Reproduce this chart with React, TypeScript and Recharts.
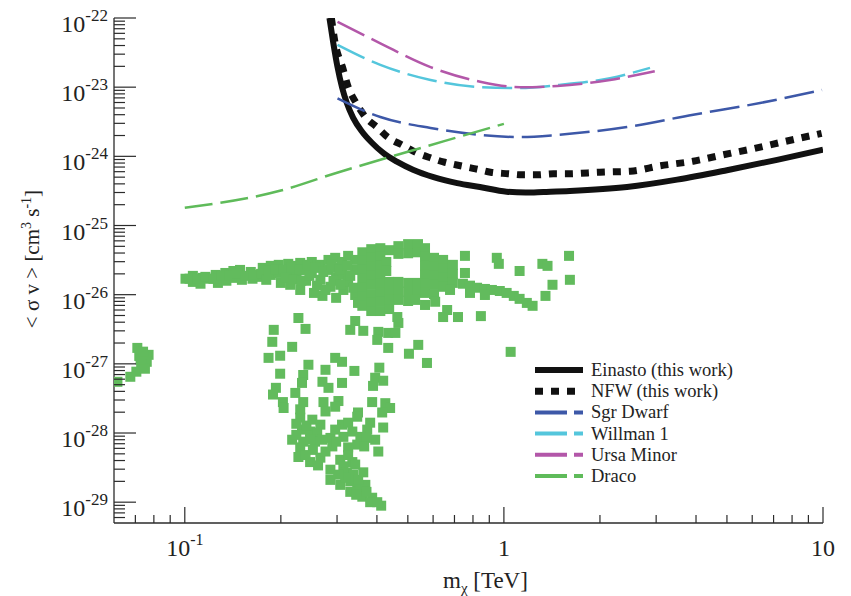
import React from "react";
import { ComposedChart, Line, Scatter, XAxis, YAxis } from "recharts";

const AXIS = "#2b2b2b";
const FONT = '"Liberation Serif", "Times New Roman", serif';

// upper limits, m_chi in TeV, <sigma v> in cm^3 s^-1
const einastoMass = [0.284, 0.292, 0.301, 0.311, 0.322, 0.337, 0.36, 0.3865, 0.4185, 0.4635, 0.519, 0.602, 0.714, 0.841, 1.02, 1.17, 1.33, 1.61, 2.43, 3.49, 5.0, 7.18, 10];
const einastoSigma = [1e-22, 4.35e-23, 1.96e-23, 1.0e-23, 5.9e-24, 3.6e-24, 2.25e-24, 1.56e-24, 1.12e-24, 8.3e-25, 6.4e-25, 5.0e-25, 4.1e-25, 3.6e-25, 3.08e-25, 3.0e-25, 3.06e-25, 3.16e-25, 3.6e-25, 4.6e-25, 6.3e-25, 8.9e-25, 1.25e-24];

const nfwMass = [0.288, 0.296, 0.312, 0.326, 0.343, 0.368, 0.402, 0.432, 0.481, 0.528, 0.589, 0.646, 0.731, 0.815, 0.908, 1.03, 1.14, 1.27, 1.43, 1.59, 2.0, 2.49, 3.09, 3.92, 4.86, 6.04, 7.5, 9.44, 9.9];
const nfwSigma = [1e-22, 4.3e-23, 1.95e-23, 9.7e-24, 6.1e-24, 3.7e-24, 2.6e-24, 1.9e-24, 1.45e-24, 1.15e-24, 9.5e-25, 8.3e-25, 7.3e-25, 6.6e-25, 5.9e-25, 5.6e-25, 5.4e-25, 5.4e-25, 5.6e-25, 5.6e-25, 5.9e-25, 6.1e-25, 7.3e-25, 8.5e-25, 1.05e-24, 1.29e-24, 1.62e-24, 2.05e-24, 2.15e-24];

const sgrMass = [0.301, 0.41, 0.589, 0.843, 1.125, 1.47, 2.43, 3.92, 6.35, 9.93];
const sgrSigma = [6.9e-24, 3.7e-24, 2.57e-24, 2.04e-24, 1.9e-24, 2.04e-24, 2.66e-24, 4.0e-24, 5.9e-24, 9.1e-24];

const willmanMass = [0.301, 0.41, 0.589, 0.843, 1.125, 1.47, 2.15, 2.87];
const willmanSigma = [4.1e-23, 2.1e-23, 1.27e-23, 1.0e-23, 9.7e-24, 1.07e-23, 1.35e-23, 1.9e-23];

const ursaMass = [0.301, 0.41, 0.589, 0.843, 1.125, 1.47, 2.15, 2.97];
const ursaSigma = [8.8e-23, 4.3e-23, 1.95e-23, 1.2e-23, 1.0e-23, 1.04e-23, 1.27e-23, 1.7e-23];

const dracoMass = [0.1, 0.2, 0.3, 0.44, 0.65, 1.0];
const dracoSigma = [1.8e-25, 3.2e-25, 5.8e-25, 9.8e-25, 1.66e-24, 2.95e-24];

// Draco model scan points [m_chi, <sigma v>]
const dracoScan: [number, number][] = [
  [0.071, 1.7e-27], [0.072, 1.3e-27], [0.077, 1.35e-27], [0.076, 1.07e-27], [0.073, 9.7e-28], [0.0705, 7.7e-28],
  [0.0675, 6.5e-28], [0.0615, 5.5e-28], [0.075, 8.5e-28], [0.0727, 1.14e-27], [0.074, 1.5e-27],
  [0.1005, 1.7e-26], [0.106, 1.53e-26], [0.106, 1.87e-26], [0.112, 1.44e-26], [0.114, 1.75e-26], [0.12, 1.7e-26],
  [0.125, 1.93e-26], [0.127, 1.48e-26], [0.134, 2.06e-26], [0.135, 1.59e-26], [0.142, 2.2e-26], [0.144, 1.75e-26],
  [0.149, 2.28e-26], [0.151, 1.64e-26], [0.161, 2.13e-26], [0.163, 1.7e-26], [0.17, 1.81e-26], [0.1755, 2.44e-26],
  [0.186, 2.61e-26], [0.186, 1.93e-26], [0.197, 2.7e-26], [0.197, 2.06e-26], [0.2, 1.48e-26], [0.211, 2.79e-26],
  [0.211, 2.13e-26], [0.214, 1.39e-26], [0.222, 2.61e-26], [0.224, 1.87e-26], [0.23, 2.88e-26], [0.23, 1.17e-26],
  [0.239, 2.28e-26], [0.24, 1.59e-26], [0.25, 2.97e-26], [0.25, 2.06e-26], [0.254, 1.06e-26], [0.266, 2.7e-26],
  [0.266, 1.64e-26], [0.27, 9.6e-27], [0.282, 3.18e-26], [0.282, 2.28e-26], [0.286, 1.3e-26], [0.296, 3.41e-26],
  [0.296, 2.44e-26], [0.298, 1.75e-26], [0.298, 9.0e-27], [0.311, 2.97e-26], [0.311, 1.93e-26], [0.314, 1.17e-26],
  [0.325, 3.64e-26], [0.325, 1.53e-26], [0.342, 3.18e-26], [0.342, 2.28e-26], [0.342, 9.9e-27], [0.349, 7.6e-27],
  [0.1035, 1.7e-26], [0.1096, 1.7e-26], [0.116, 1.81e-26], [0.123, 1.7e-26], [0.1305, 1.87e-26], [0.1377, 1.87e-26],
  [0.146, 2.0e-26], [0.155, 1.87e-26], [0.1638, 1.93e-26], [0.1734, 2.0e-26], [0.18, 1.64e-26], [0.183, 2.2e-26],
  [0.193, 2.28e-26], [0.204, 2.28e-26], [0.207, 1.75e-26], [0.2156, 2.44e-26], [0.219, 1.64e-26], [0.2284, 2.28e-26],
  [0.2317, 1.59e-26], [0.2422, 2.7e-26], [0.2457, 1.87e-26], [0.256, 2.44e-26], [0.2597, 1.35e-26], [0.2717, 2.13e-26],
  [0.276, 1.17e-26], [0.288, 2.7e-26], [0.2924, 1.59e-26], [0.305, 2.28e-26], [0.307, 1.39e-26], [0.3225, 2.61e-26],
  [0.33, 1.87e-26], [0.337, 1.26e-26],
  [0.36, 4.1e-26], [0.36, 3.08e-26], [0.36, 2.28e-26], [0.36, 1.7e-26], [0.36, 1.26e-26], [0.36, 9.3e-27], [0.36, 6.9e-27],
  [0.384, 4.55e-26], [0.384, 3.41e-26], [0.384, 2.52e-26], [0.384, 1.87e-26], [0.384, 1.39e-26], [0.384, 1.02e-26],
  [0.384, 7.6e-27], [0.384, 5.8e-27], [0.41, 4.7e-26], [0.41, 3.52e-26], [0.41, 2.61e-26], [0.41, 1.93e-26],
  [0.41, 1.44e-26], [0.41, 1.06e-26], [0.41, 7.9e-27], [0.41, 5.8e-27], [0.428, 2.97e-26], [0.428, 2.2e-26],
  [0.437, 4.4e-26], [0.437, 1.53e-26], [0.437, 1.13e-26], [0.437, 8.4e-27], [0.437, 6.2e-27],
  [0.467, 5.03e-26], [0.467, 3.89e-26], [0.467, 1.53e-26], [0.467, 1.13e-26], [0.467, 8.4e-27],
  [0.501, 5.38e-26], [0.501, 3.97e-26], [0.501, 1.48e-26], [0.501, 1.1e-26], [0.501, 8.1e-27],
  [0.538, 5.38e-26], [0.538, 4.1e-26], [0.538, 1.48e-26], [0.538, 1.1e-26],
  [0.566, 4.7e-26], [0.566, 3.52e-26], [0.566, 2.61e-26], [0.566, 1.93e-26], [0.566, 1.44e-26], [0.566, 1.06e-26],
  [0.604, 3.41e-26], [0.604, 2.52e-26], [0.604, 1.87e-26], [0.604, 1.39e-26], [0.604, 1.02e-26],
  [0.645, 3.18e-26], [0.645, 2.36e-26], [0.645, 1.75e-26], [0.645, 1.3e-26],
  [0.692, 2.7e-26], [0.692, 2.0e-26], [0.692, 1.48e-26],
  [0.755, 3.64e-26], [0.755, 2.06e-26], [0.527, 8.4e-27], [0.609, 7.9e-27], [0.664, 6.0e-27], [0.718, 4.75e-27],
  [0.645, 4.75e-27], [0.847, 4.9e-27], [0.566, 7.1e-27], [0.678, 1.17e-26],
  [0.744, 1.44e-26], [0.783, 1.35e-26], [0.824, 1.26e-26], [0.872, 1.21e-26], [0.917, 1.17e-26], [0.971, 1.13e-26],
  [1.02, 1.06e-26], [1.074, 9.6e-27], [1.12, 8.7e-27], [1.18, 7.6e-27], [1.23, 6.9e-27], [0.783, 1.06e-26], [0.872, 9.9e-27],
  [0.95, 3.41e-26], [0.964, 2.79e-26], [1.12, 2.2e-26], [1.32, 2.79e-26], [1.37, 2.61e-26], [1.6, 3.64e-26],
  [1.61, 1.64e-26], [1.42, 1.39e-26], [1.35, 9.6e-27], [1.05, 1.49e-27],
  [0.227, 4.6e-27], [0.19, 3.1e-27], [0.188, 2.08e-27], [0.239, 3.2e-27], [0.217, 1.76e-27], [0.183, 1.22e-27],
  [0.199, 1.31e-27], [0.199, 7.2e-28], [0.193, 4.5e-28], [0.189, 3.6e-28], [0.203, 2.8e-28], [0.204, 2.3e-28],
  [0.244, 9.7e-28], [0.235, 6.9e-28], [0.233, 5.3e-28], [0.222, 3.8e-28], [0.235, 2.8e-28], [0.23, 2.2e-28],
  [0.276, 8.2e-28], [0.27, 5.5e-28], [0.282, 4.5e-28], [0.272, 2.8e-28], [0.303, 2.9e-28], [0.311, 5.3e-28],
  [0.296, 1.22e-27], [0.311, 1.07e-27], [0.34, 7.9e-28], [0.342, 4.16e-27], [0.33, 3.1e-27], [0.3625, 3.0e-27],
  [0.404, 2.9e-27], [0.401, 2.22e-27], [0.434, 2.8e-27], [0.457, 2.8e-27], [0.467, 3.9e-27], [0.4635, 4.75e-27],
  [0.434, 1.7e-27], [0.504, 1.4e-27], [0.407, 8.8e-28], [0.395, 6.3e-28], [0.4185, 5.7e-28], [0.389, 4.8e-28],
  [0.3865, 2.8e-28], [0.425, 2.7e-28], [0.44, 2.3e-28], [0.349, 1.98e-28], [0.539, 1.88e-27], [0.574, 1.03e-27],
  [0.296, 2.4e-28],
  [0.4155, 1.98e-28], [0.276, 2.05e-28], [0.23, 1.67e-28], [0.251, 1.56e-28], [0.311, 1.32e-28], [0.347, 1.72e-28],
  [0.325, 1.41e-28], [0.381, 1.41e-28], [0.373, 1.12e-28], [0.4185, 1.2e-28], [0.233, 1.12e-28], [0.247, 1.05e-28],
  [0.217, 8.0e-29], [0.235, 7.5e-29], [0.26, 1.02e-28], [0.256, 7.5e-29], [0.286, 8.5e-29], [0.314, 8.8e-29],
  [0.355, 8.8e-29], [0.347, 6.8e-29], [0.395, 8.0e-29], [0.404, 5.4e-29], [0.23, 6.2e-29], [0.252, 5.7e-29],
  [0.29, 6.4e-29], [0.325, 6.2e-29], [0.227, 4.5e-29], [0.247, 3.8e-29], [0.266, 4.4e-29], [0.307, 4.1e-29],
  [0.335, 3.8e-29], [0.286, 2.95e-29], [0.314, 3.3e-29], [0.342, 3.5e-29], [0.286, 2.1e-29], [0.322, 2.7e-29],
  [0.3625, 2.7e-29], [0.307, 1.78e-29], [0.33, 2.0e-29], [0.347, 1.6e-29], [0.368, 1.78e-29], [0.33, 1.41e-29],
  [0.36, 1.2e-29], [0.3865, 1.16e-29], [0.381, 1.0e-29], [0.4125, 8.9e-30], [0.337, 2.5e-29],
  [0.2236, 1.36e-28], [0.2405, 1.28e-28], [0.266, 1.32e-28], [0.2236, 9.4e-29], [0.27, 8.0e-29], [0.296, 1.12e-28],
  [0.298, 7.5e-29], [0.276, 5.4e-29], [0.239, 4.8e-29], [0.2616, 3.4e-29], [0.335, 1.05e-28], [0.371, 8.5e-29],
  [0.325, 4.8e-29], [0.318, 2.25e-29], [0.3494, 2.1e-29], [0.3025, 2.5e-29], [0.3445, 1.28e-29], [0.371, 1.41e-29],
  [0.401, 1.0e-29], [0.247, 8.0e-29], [0.365, 6.4e-29],
];

const zip = (m: number[], s: number[]) => m.map((x, i) => ({ x, y: s[i] }));
const einasto = zip(einastoMass, einastoSigma);
const nfw = zip(nfwMass, nfwSigma);
const sgr = zip(sgrMass, sgrSigma);
const willman = zip(willmanMass, willmanSigma);
const ursa = zip(ursaMass, ursaSigma);
const draco = zip(dracoMass, dracoSigma);
const scan = dracoScan.map(([x, y]) => ({ x, y }));

const xTicks: number[] = [];
for (let n = -2; n <= 1; n++) {
  for (let k = 1; k <= 9; k++) {
    const v = Number(`${k}e${n}`);
    if (v > 0.065 && v <= 10) xTicks.push(v);
  }
}
const yTicks: number[] = [];
for (let n = -30; n <= -22; n++) {
  for (let k = 1; k <= 9; k++) {
    const v = Number(`${k}e${n}`);
    if (v > 5.5e-30 && v <= 1e-22) yTicks.push(v);
  }
}

const isDecade = (v: number) => Math.abs(Math.log10(v) - Math.round(Math.log10(v))) < 1e-6;

const XTick = (props: any) => {
  const { x, y, payload } = props;
  const v = payload.value;
  const major = isDecade(v);
  const e = Math.round(Math.log10(v));
  return (
    <g>
      <line x1={x} y1={y} x2={x} y2={y - (major ? 16 : 8)} stroke={AXIS} strokeWidth={1.2} />
      {major && (
        <text x={x} y={y + 33} textAnchor="middle" style={{ fontFamily: FONT }} fontSize={24} fill="#222">
          {e === 0 ? "1" : "10"}
          {e < 0 && <tspan dy={-11} fontSize={16}>{String(e)}</tspan>}
        </text>
      )}
    </g>
  );
};

const YTick = (props: any) => {
  const { x, y, payload } = props;
  const v = payload.value;
  const major = isDecade(v);
  const e = Math.round(Math.log10(v));
  return (
    <g>
      <line x1={x} y1={y} x2={x + (major ? 22 : 11)} y2={y} stroke={AXIS} strokeWidth={1.2} />
      {major && (
        <text x={x - 6} y={y + 14} textAnchor="end" style={{ fontFamily: FONT }} fontSize={24} fill="#222">
          10
          <tspan dy={-11} fontSize={17}>{String(e)}</tspan>
        </text>
      )}
    </g>
  );
};

const Square = (props: any) => (
  <rect x={props.cx - 5} y={props.cy - 5} width={10} height={10} fill="#62bb5d" />
);

const SGR = "#3d58a8";
const WILLMAN = "#54c6dc";
const URSA = "#b357a9";
const DRACO = "#5fbb5a";

const legendRows = [
  { label: "Einasto (this work)", color: "#111", kind: "solid" },
  { label: "NFW (this work)", color: "#111", kind: "dot" },
  { label: "Sgr Dwarf", color: SGR, kind: "dash" },
  { label: "Willman 1", color: WILLMAN, kind: "dash" },
  { label: "Ursa Minor", color: URSA, kind: "dash" },
  { label: "Draco", color: DRACO, kind: "dash" },
];

export default function App() {
  return (
    <div style={{ position: "absolute", left: 0, top: 0, width: 851, height: 596, background: "#fff" }}>
      <ComposedChart width={851} height={596} margin={{ top: 18, right: 28, bottom: 43, left: 14 }}>
        <XAxis
          type="number"
          dataKey="x"
          scale="log"
          domain={[0.06, 10]}
          allowDataOverflow
          ticks={xTicks}
          interval={0}
          tick={XTick}
          tickLine={false}
          tickSize={0}
          tickMargin={0}
          height={30}
          axisLine={{ stroke: AXIS, strokeWidth: 1.3 }}
        />
        <YAxis
          type="number"
          dataKey="y"
          scale="log"
          domain={[5e-30, 1e-22]}
          allowDataOverflow
          ticks={yTicks}
          interval={0}
          tick={YTick}
          tickLine={false}
          tickSize={0}
          tickMargin={0}
          width={100}
          axisLine={{ stroke: AXIS, strokeWidth: 1.3 }}
        />
        <Scatter data={scan} shape={Square} isAnimationActive={false} />
        <Line data={einasto} dataKey="y" type="monotone" stroke="#111" strokeWidth={6} dot={false} isAnimationActive={false} />
        <Line data={nfw} dataKey="y" type="monotone" stroke="#111" strokeWidth={7} strokeDasharray="8 8" dot={false} isAnimationActive={false} />
        <Line data={sgr} dataKey="y" type="monotone" stroke={SGR} strokeWidth={2.5} strokeDasharray="30 8" dot={false} isAnimationActive={false} />
        <Line data={willman} dataKey="y" type="monotone" stroke={WILLMAN} strokeWidth={2.5} strokeDasharray="30 8" dot={false} isAnimationActive={false} />
        <Line data={ursa} dataKey="y" type="monotone" stroke={URSA} strokeWidth={2.5} strokeDasharray="30 8" dot={false} isAnimationActive={false} />
        <Line data={draco} dataKey="y" type="monotone" stroke={DRACO} strokeWidth={2.5} strokeDasharray="28 8" dot={false} isAnimationActive={false} />
      </ComposedChart>
      <svg width={851} height={596} style={{ position: "absolute", left: 0, top: 0, pointerEvents: "none", fontFamily: FONT }}>
        <text x={443} y={588} fontSize={23} fill="#222">
          m<tspan dy={5} fontSize={15}>χ</tspan>
          <tspan dy={-5}> [TeV]</tspan>
        </text>
        <text transform="translate(39,259) rotate(-90)" textAnchor="middle" fontSize={21} fill="#222">
          {"< σ v > [cm"}
          <tspan dy={-8} fontSize={14}>3</tspan>
          <tspan dy={8}> s</tspan>
          <tspan dy={-8} fontSize={14}>-1</tspan>
          <tspan dy={8}>]</tspan>
        </text>
        {legendRows.map((r, i) => {
          const y = 370 + i * 21.2;
          return (
            <g key={r.label}>
              {r.kind === "solid" && <line x1={535} y1={y} x2={583} y2={y} stroke={r.color} strokeWidth={6} />}
              {r.kind === "dot" && <line x1={535} y1={y} x2={576} y2={y} stroke={r.color} strokeWidth={7} strokeDasharray="8 8" />}
              {r.kind === "dash" && <line x1={535} y1={y} x2={583} y2={y} stroke={r.color} strokeWidth={4} strokeDasharray="32 7" />}
              <text x={591} y={y + 6} fontSize={18.5} fill="#222">{r.label}</text>
            </g>
          );
        })}
      </svg>
    </div>
  );
}
